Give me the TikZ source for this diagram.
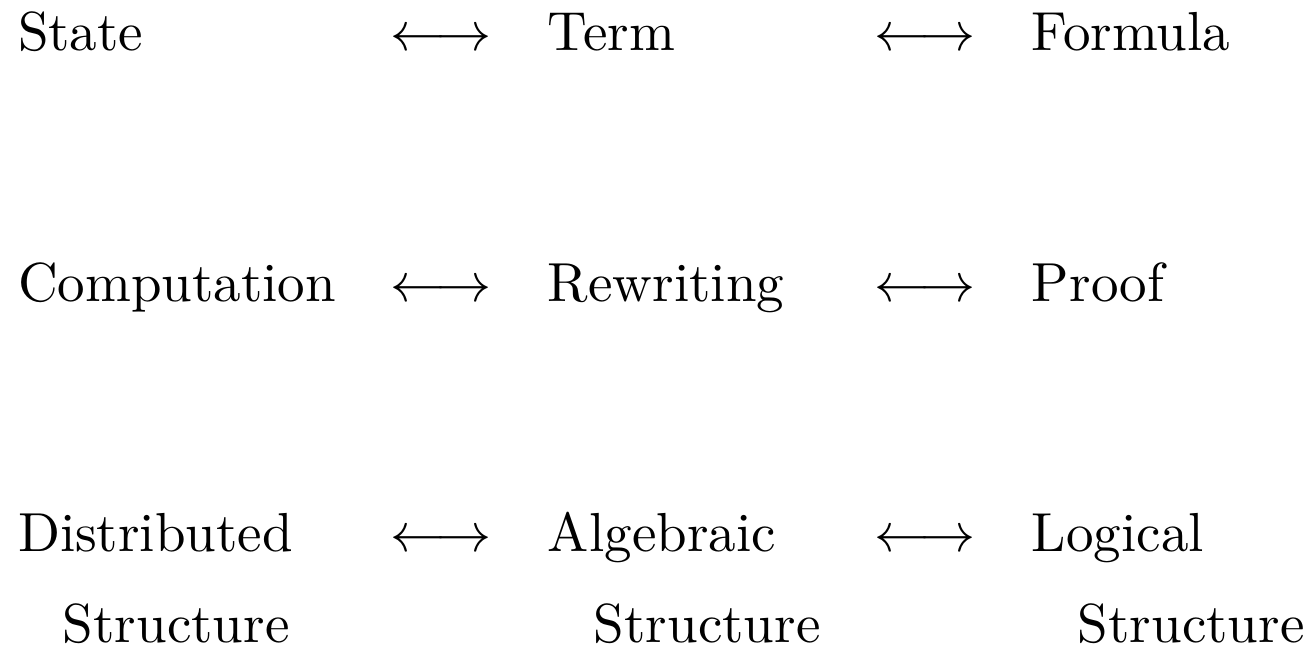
\documentclass[tikz,border=0pt]{standalone}
\usepackage{amsmath}
\begin{document}
\begin{tikzpicture}[x=0.18182pt,y=-0.18182pt,
  lbl/.style={anchor=base west,inner sep=0pt,outer sep=0pt},
  arr/.style={anchor=base west,inner sep=0pt,outer sep=0pt}]
\useasboundingbox (0,0) rectangle (1308,648);
% row 1
\node[lbl] (state) at (18,51) {State};
\node[arr] (a1) at (391,51) {$\longleftrightarrow$};
\node[lbl] (term) at (548,51) {Term};
\node[arr] (a2) at (875,51) {$\longleftrightarrow$};
\node[lbl] (formula) at (1032,51) {Formula};
% row 2
\node[lbl] (comp) at (18,302) {Computation};
\node[arr] (a3) at (391,302) {$\longleftrightarrow$};
\node[lbl] (rew) at (548,302) {Rewriting};
\node[arr] (a4) at (875,302) {$\longleftrightarrow$};
\node[lbl] (proof) at (1032,302) {Proof};
% row 3
\node[lbl] (dist) at (18,552) {Distributed};
\node[arr] (a5) at (391,552) {$\longleftrightarrow$};
\node[lbl] (alg) at (548,552) {Algebraic};
\node[arr] (a6) at (875,552) {$\longleftrightarrow$};
\node[lbl] (logi) at (1032,552) {Logical};
\node[lbl] (s1) at (63,643) {Structure};
\node[lbl] (s2) at (594,643) {Structure};
\node[lbl] (s3) at (1078,643) {Structure};
\end{tikzpicture}
\end{document}
